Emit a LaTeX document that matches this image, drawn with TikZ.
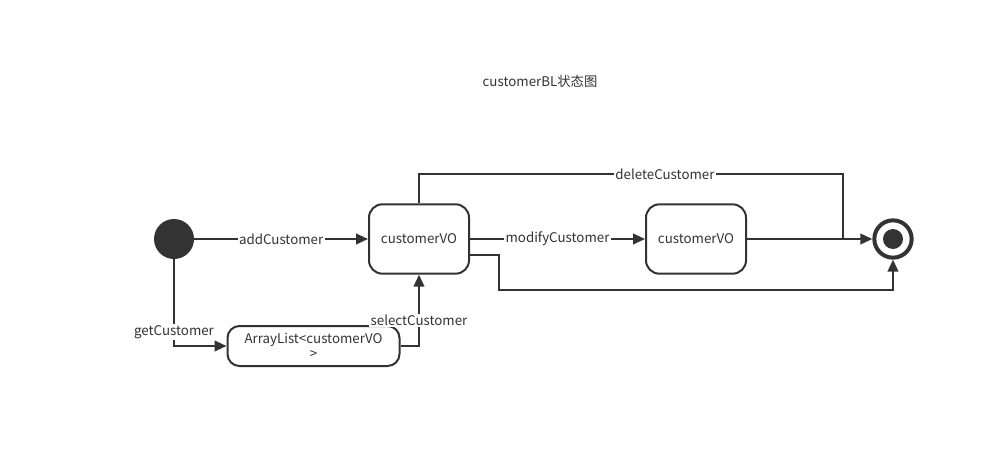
\documentclass[tikz,border=0pt]{standalone}
\usepackage{fontspec}
\setmainfont{Noto Sans CJK SC}
\usetikzlibrary{arrows.meta}
\definecolor{ink}{HTML}{333333}
\tikzset{
  state/.style={draw=ink,line width=1.5pt,rounded corners=10pt,minimum width=75pt,minimum height=52pt,font=\fontsize{10pt}{11pt}\selectfont,text=ink},
  edge/.style={draw=ink,line width=1.5pt,-{Triangle[length=9pt,width=8pt]}},
  lbl/.style={fill=white,inner sep=1pt,font=\fontsize{10pt}{11pt}\selectfont,text=ink}
}
\begin{document}
\begin{tikzpicture}[x=0.75pt,y=-0.75pt]
  \useasboundingbox (0,0) rectangle (1006,467);
  \node[font=\fontsize{10pt}{11pt}\selectfont,text=ink] (title) at (540,81) {customerBL状态图};

  % states
  \node[circle,fill=ink,minimum size=30pt,inner sep=0pt] (init) at (174,239) {};
  \node[state] (vo1) at (419,239) {customerVO};
  \node[state] (vo2) at (696,239) {customerVO};
  \node[state,minimum width=129pt,minimum height=30pt,rounded corners=9pt,align=center,font=\fontsize{10pt}{11pt}\selectfont] (list) at (313.5,346) {ArrayList<customerVO\\>};
  \node[circle,draw=ink,line width=3pt,minimum size=28pt,inner sep=0pt] (final) at (893,239) {};
  \node[circle,fill=ink,minimum size=15pt,inner sep=0pt] at (final) {};

  % transitions
  \draw[edge] (init) -- node[lbl] {addCustomer} (vo1);
  \draw[edge] (vo1) -- node[lbl] {modifyCustomer} (vo2);
  \draw[edge] (vo2) -- (final);
  \draw[edge] (init.south) |- node[lbl,pos=0.42] {getCustomer} (list.west);
  \draw[edge] (list.east) -| node[lbl,pos=0.68] {selectCustomer} (vo1.south);
  \coordinate (join) at (843,239);
  \draw[ink,line width=1.5pt] (vo1.north) |- node[lbl,pos=0.79] {deleteCustomer} (843,174) -- (join);
  \draw[edge] (vo1.east |- 0,255) -| (499,290) -| (final.south);
\end{tikzpicture}
\end{document}
